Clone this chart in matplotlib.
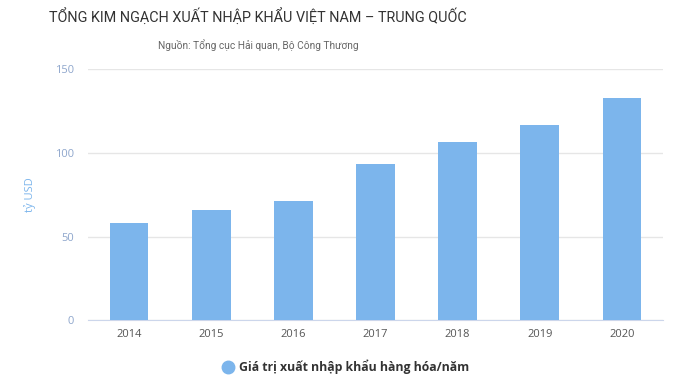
import matplotlib.pyplot as plt
from matplotlib.lines import Line2D

years = ['2014', '2015', '2016', '2017', '2018', '2019', '2020']
values = [58.1, 65.8, 71.2, 93.3, 106.4, 116.5, 132.6]
yticks = [0, 50, 100, 150]

plt.rcParams['font.family'] = ['Open Sans', 'DejaVu Sans']

fig = plt.figure(figsize=(6.96, 3.82), dpi=100)
ax = fig.add_axes([0.1264, 0.161, 0.8262, 0.659])

x = list(range(len(years)))
ax.bar(x, values, width=0.47, color='#7cb5ec', zorder=3)

ax.set_xlim(-0.5, len(years) - 0.5)
ax.set_ylim(0, 150)
ax.set_yticks(yticks)
ax.set_xticks(x)
ax.set_xticklabels(years)
ax.grid(axis='y', color='#e6e6e6', linewidth=1, zorder=0)
ax.tick_params(axis='x', length=0, pad=6, labelsize=8, labelcolor='#555555')
ax.tick_params(axis='y', length=0, pad=10, labelsize=8, labelcolor='#8ea6cc')
for s in ['top', 'right', 'left']:
    ax.spines[s].set_visible(False)
ax.spines['bottom'].set_color('#ccd6eb')

ax.set_ylabel('tỷ USD', color='#7cb5ec', fontsize=8, labelpad=14)

fig.text(0.371, 0.955, 'TỔNG KIM NGẠCH XUẤT NHẬP KHẨU VIỆT NAM – TRUNG QUỐC',
         ha='center', va='center', fontsize=10.4, color='#333333',
         family=['Roboto', 'DejaVu Sans'])
fig.text(0.371, 0.882, 'Nguồn: Tổng cục Hải quan, Bộ Công Thương',
         ha='center', va='center', fontsize=7.3, color='#666666',
         family=['Roboto', 'DejaVu Sans'])

handle = Line2D([], [], marker='o', linestyle='none', markersize=9,
                markerfacecolor='#7cb5ec', markeredgecolor='#7cb5ec')
fig.legend([handle], ['Giá trị xuất nhập khẩu hàng hóa/năm'],
           loc='center', bbox_to_anchor=(0.497, 0.04), frameon=False,
           prop={'weight': 'bold', 'size': 8.8}, labelcolor='#333333',
           handletextpad=0.4, handlelength=1.0)

fig.savefig('out.png', dpi=100)
